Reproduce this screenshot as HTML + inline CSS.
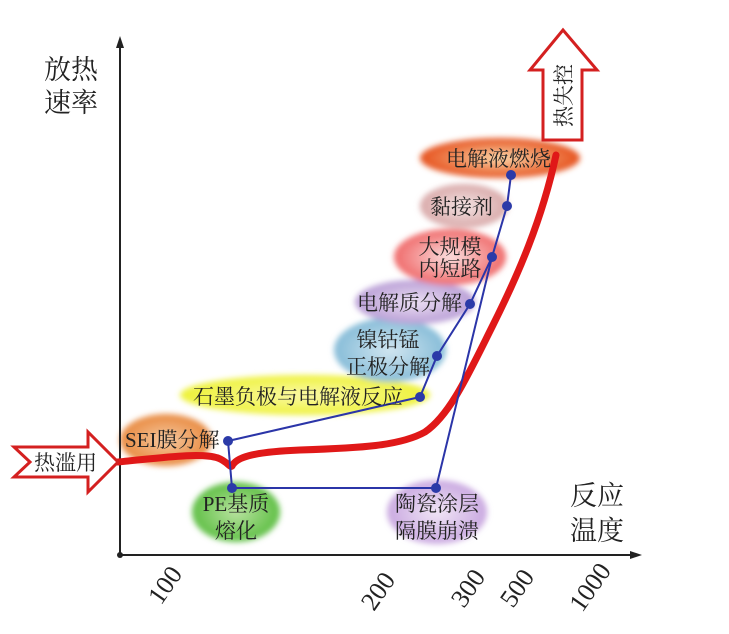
<!DOCTYPE html>
<html><head><meta charset="utf-8"><style>
html,body{margin:0;padding:0;background:#fff}
svg{display:block}
text{font-family:"Liberation Serif","Noto Serif CJK SC","Noto Sans CJK SC",serif;fill:#222}
</style></head><body>
<svg width="729" height="634" viewBox="0 0 729 634" xmlns="http://www.w3.org/2000/svg">
<defs>
<filter id="b" x="-20%" y="-40%" width="140%" height="180%"><feGaussianBlur stdDeviation="3"/></filter>
<radialGradient id="gO"><stop offset="0" stop-color="#f7c9a0"/><stop offset="1" stop-color="#e88a40"/></radialGradient>
<radialGradient id="gG"><stop offset="0" stop-color="#b9e3a0"/><stop offset="1" stop-color="#5fbf45"/></radialGradient>
<radialGradient id="gY"><stop offset="0" stop-color="#fbf9a8"/><stop offset="1" stop-color="#eef23a"/></radialGradient>
<radialGradient id="gB"><stop offset="0" stop-color="#d2e6f0"/><stop offset="1" stop-color="#86bcd8"/></radialGradient>
<radialGradient id="gP"><stop offset="0" stop-color="#ece0f3"/><stop offset="1" stop-color="#b99ed6"/></radialGradient>
<radialGradient id="gR"><stop offset="0" stop-color="#fbe0e0"/><stop offset="1" stop-color="#f06a6a"/></radialGradient>
<radialGradient id="gK"><stop offset="0" stop-color="#f3e4e4"/><stop offset="1" stop-color="#d9a9a9"/></radialGradient>
<radialGradient id="gF"><stop offset="0" stop-color="#fbd6a8"/><stop offset="1" stop-color="#e6521e"/></radialGradient>
<radialGradient id="gC"><stop offset="0" stop-color="#f1e6f6"/><stop offset="1" stop-color="#c9a8e0"/></radialGradient>
</defs>
<g filter="url(#b)">
<ellipse cx="166" cy="440" rx="46" ry="26" fill="url(#gO)"/>
<ellipse cx="236" cy="512" rx="44" ry="30" fill="url(#gG)"/>
<ellipse cx="305" cy="395" rx="125" ry="20" fill="url(#gY)"/>
<ellipse cx="390" cy="350" rx="56" ry="32" fill="url(#gB)"/>
<ellipse cx="415" cy="302" rx="60" ry="22" fill="url(#gP)"/>
<ellipse cx="450" cy="257" rx="56" ry="28" fill="url(#gR)"/>
<ellipse cx="464" cy="206" rx="44" ry="22" fill="url(#gK)"/>
<ellipse cx="500" cy="158" rx="80" ry="20" fill="url(#gF)"/>
<ellipse cx="437" cy="512" rx="50" ry="32" fill="url(#gC)"/>
</g>
<line x1="120" y1="42" x2="120" y2="555" stroke="#222" stroke-width="2"/>
<polygon points="120,36 116,48 124,48" fill="#222"/>
<line x1="120" y1="555" x2="636" y2="555" stroke="#222" stroke-width="2"/>
<polygon points="642,555 630,551 630,559" fill="#222"/>
<circle cx="120" cy="555" r="3" fill="#222"/>
<path d="M118,462 C160,458 200,452 218,458 C228,462 230,468 232,466 C236,458 250,452 300,450 C360,448 400,446 425,432 C450,415 468,375 493,325 C518,275 542,220 556,155" fill="none" stroke="#e01818" stroke-width="7" stroke-linecap="round"/>
<polygon points="14,447 88,447 88,432 118,462 88,492 88,477 14,477 30,462" fill="#fff" stroke="#d42020" stroke-width="3"/>
<polygon points="563,30 597,70 582,70 582,140 543,140 543,70 530,70" fill="#fff" stroke="#d42020" stroke-width="3"/>
<text x="0" y="0" font-size="21" transform="translate(571,127) rotate(-90)">热失控</text>
<g stroke="#2b35a8" stroke-width="2" fill="none">
<polyline points="228,441 232,488 436,488 492,257"/>
<polyline points="228,441 420,397 437,356 470,304 492,257 507,206 511,175"/>
</g>
<g fill="#2b3aa8">
<circle cx="228" cy="441" r="5"/><circle cx="232" cy="488" r="5"/><circle cx="436" cy="488" r="5"/>
<circle cx="420" cy="397" r="5"/><circle cx="437" cy="356" r="5"/><circle cx="470" cy="304" r="5"/>
<circle cx="492" cy="257" r="5"/><circle cx="507" cy="206" r="5"/><circle cx="511" cy="175" r="5"/>
</g>
<g font-size="21">
<text x="34" y="470">热滥用</text>
<text x="125" y="447">SEI膜分解</text>
<text x="236" y="511" text-anchor="middle">PE基质</text>
<text x="236" y="538" text-anchor="middle">熔化</text>
<text x="193" y="404">石墨负极与电解液反应</text>
<text x="388" y="347" text-anchor="middle">镍钴锰</text>
<text x="388" y="374" text-anchor="middle">正极分解</text>
<text x="357" y="310">电解质分解</text>
<text x="450" y="254" text-anchor="middle">大规模</text>
<text x="450" y="276" text-anchor="middle">内短路</text>
<text x="430" y="214">黏接剂</text>
<text x="446" y="166">电解液燃烧</text>
<text x="437" y="511" text-anchor="middle">陶瓷涂层</text>
<text x="437" y="538" text-anchor="middle">隔膜崩溃</text>
</g>
<g font-size="27">
<text x="44" y="79">放热</text>
<text x="44" y="112">速率</text>
<text x="570" y="505">反应</text>
<text x="570" y="540">温度</text>
</g>
<g font-size="26" text-anchor="middle">
<text transform="translate(172,590) rotate(-55)">100</text>
<text transform="translate(385,596) rotate(-55)">200</text>
<text transform="translate(475,593) rotate(-55)">300</text>
<text transform="translate(524,593) rotate(-55)">500</text>
<text transform="translate(597,592) rotate(-55)">1000</text>
</g>
</svg>
</body></html>
